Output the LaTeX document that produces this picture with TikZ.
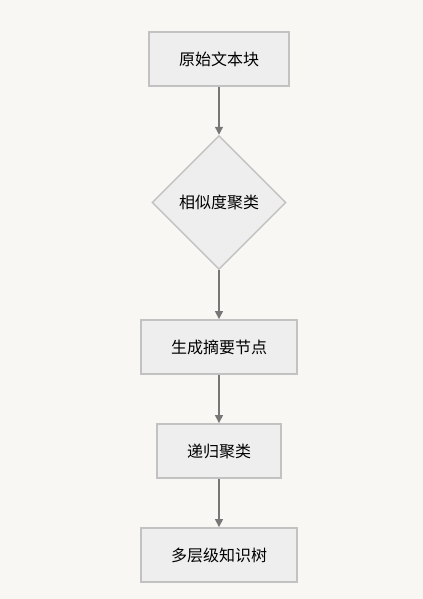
\documentclass[tikz,border=0pt]{standalone}
\usepackage{fontspec}
\newfontfamily\cjk{Noto Sans CJK SC}
\usetikzlibrary{shapes.geometric,arrows.meta}
\definecolor{bgcol}{HTML}{F8F7F3}
\definecolor{boxfill}{HTML}{EEEEEE}
\definecolor{boxline}{HTML}{C2C2C2}
\definecolor{linecol}{HTML}{777777}
\begin{document}
\begin{tikzpicture}[x=0.75pt,y=-0.75pt,>={Triangle[length=6pt,width=6pt]},
		font=\cjk\fontsize{12pt}{14pt}\selectfont,
		stepbox/.style={draw=boxline,fill=boxfill,line width=1.4pt,minimum height=40.5pt,inner sep=0pt},
		decision/.style={diamond,draw=boxline,fill=boxfill,line width=1.1pt,minimum width=100.5pt,minimum height=100.5pt,inner sep=0pt},
		flow/.style={->,draw=linecol,line width=1pt}]
				\fill[bgcol] (0,0) rectangle (423,599);
				\node[stepbox,minimum width=105pt] (raw) at (219,59) {原始文本块};
				\node[decision] (cluster) at (219,202.5) {相似度聚类};
				\node[stepbox,minimum width=117pt] (summary) at (219,347) {生成摘要节点};
				\node[stepbox,minimum width=93pt] (recur) at (219,451) {递归聚类};
				\node[stepbox,minimum width=117pt] (tree) at (219,555) {多层级知识树};
				\draw[flow] (raw) -- (cluster);
				\draw[flow] (cluster) -- (summary);
				\draw[flow] (summary) -- (recur);
				\draw[flow] (recur) -- (tree);
		\end{tikzpicture}
\end{document}
